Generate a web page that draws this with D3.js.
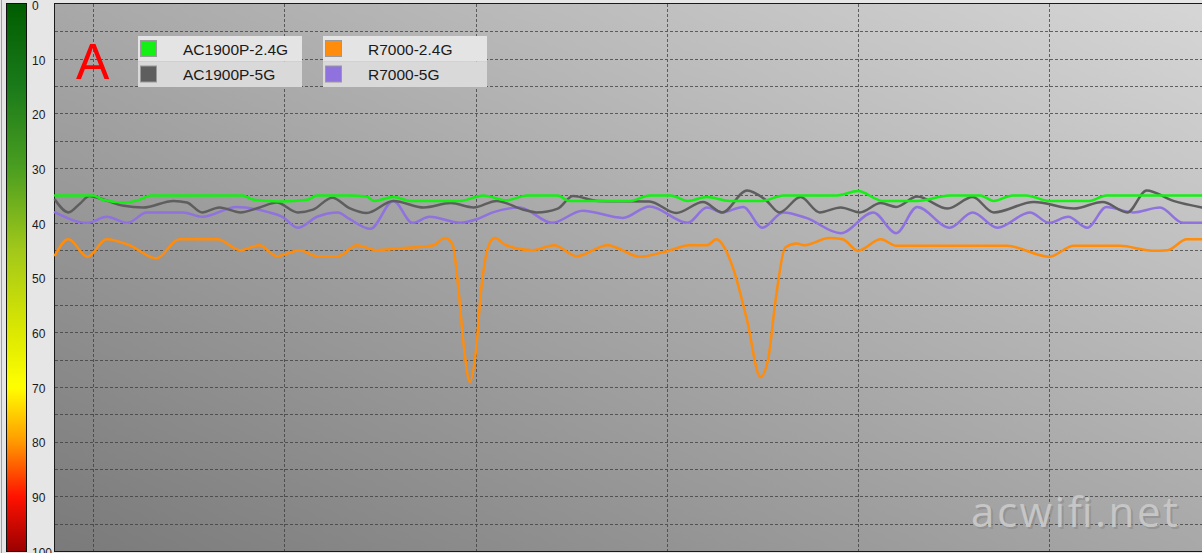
<!DOCTYPE html>
<html>
<head>
<meta charset="utf-8">
<script src="https://cdn.jsdelivr.net/npm/d3@7"></script>
<style>
  html, body { margin: 0; padding: 0; background: #e6e6e6; overflow: hidden; }
  svg { display: block; }
</style>
</head>
<body>
<svg id="chart" width="1202" height="553"></svg>
<script>
// ---------- DATA ----------
const seriesNames = ["AC1900P-2.4G", "AC1900P-5G", "R7000-2.4G", "R7000-5G"];
const panelLabel = "A";
const watermark = "acwifi.net";
const yTickValues = [0, 10, 20, 30, 40, 50, 60, 70, 80, 90, 100];
const yGridValues = [5, 10, 15, 20, 25, 30, 35, 40, 45, 50, 55, 60, 65, 70, 75, 80, 85, 90, 95];
const xGridValues = [20, 120, 220, 320, 420, 520];
const xDomain = [0, 600];
const yDomain = [0, 100];

// [time, signal] pairs
const ac1900p24 = [[0,35],[20,35],[25,35.8],[36,36.3],[44,35.8],[50,35],[98,35],[104,35.8],[118,36.1],[132,35.8],[137,35],
  [154,35],[163,35.2],[167,36],[177,35.3],[186,36],[212,36],[224,35],[236,35.9],[247,35],[263,35],[269,36],[301,36],
  [311,35],[322,35],[331,36],[341,35.3],[353,36],[370,36],[381,35],[409,35],[420,34.2],[433,36],[451,36],[468,35],
  [484,35],[491,36],[501,35],[508,35],[520,36],[541,36],[550,35],[600,35]];
const ac1900p5 = [[0,35.8],[7,38.1],[13,36.5],[18,35.1],[24,35.6],[36,36.9],[46,37.2],[62,36],[69,36.3],[77,38.1],[86,37.2],
  [97,38.1],[107,37.2],[116,36.3],[127,38.1],[135,37.6],[145,35.4],[154,37.3],[163,38.2],[177,36],[193,37.2],[207,36.4],
  [219,37.2],[231,36],[245,37.6],[252,38.1],[263,37.4],[271,35.1],[284,36],[311,36.1],[325,38.2],[339,36.2],[349,38.1],
  [362,34.1],[372,35.9],[379,38.1],[390,35.3],[400,38.1],[411,37.2],[421,38.1],[432,36.4],[440,37.1],[451,35.2],[467,37.4],
  [480,35.3],[491,38.1],[512,36.2],[533,37.4],[548,36.2],[561,38.1],[571,34.1],[585,36],[600,37.2]];
const r700024 = [[0,45.9],[7,43],[17,46.2],[27,43],[39,44.1],[53,46.5],[65,43],[85,43],[97,45],[107,44.1],[116,46.1],[128,45],
  [137,46.1],[148,46.1],[158,44.1],[168,45],[180,44.7],[198,44.1],[204,42.8],[208,44],[211,52],[214,63],[217,69.1],[220,64],
  [223,52],[227,44],[230,42.8],[236,44.1],[250,45],[261,44.1],[273,46.1],[289,44.1],[306,46.2],[320,45.2],[332,44.1],
  [341,44.1],[346,43],[350,44.4],[355,48.6],[362,57.8],[369,68.2],[373,65],[377,54],[382,44.5],[388,43.8],[392,44.1],
  [405,42.8],[412,43],[420,45.1],[432,43],[440,44.2],[498,44.2],[520,46.2],[533,44.2],[557,44.2],[574,45.1],[582,45],
  [592,43],[600,43]];
const r70005 = [[0,38.1],[17,40],[27,38.9],[38,40],[48,38.1],[67,38.1],[77,38.9],[95,37.1],[111,38],[119,38.9],[127,40.9],
  [137,38.9],[148,38.1],[154,39.3],[165,41.1],[177,36],[187,40],[196,38.9],[212,40],[221,39.3],[229,38.1],[243,37.2],
  [260,40],[276,37.8],[297,39.1],[311,37],[331,40],[341,37.2],[349,38.1],[360,37.1],[370,40.9],[381,38.1],[393,39.1],
  [411,41.9],[428,38.1],[440,41.9],[451,37.1],[468,40.9],[480,38.1],[493,40.9],[510,38.1],[520,40],[530,38.9],[540,40.9],
  [550,37.1],[564,38.1],[578,37.2],[590,40],[600,40]];
const seriesData = [ac1900p24, ac1900p5, r700024, r70005];

// ---------- STYLE ----------
const colors = ["#14f014", "#5e5e5e", "#ff8c0a", "#8f72de"];
const W = 1202, H = 553;
const plot = { left: 55, top: 4, right: 1202, bottom: 551 };

const svg = d3.select("#chart");
const defs = svg.append("defs");

svg.append("rect").attr("x", 0).attr("y", 0).attr("width", W).attr("height", H).attr("fill", "#e6e6e6");
svg.append("line").attr("x1", 1.5).attr("x2", 1.5).attr("y1", 0).attr("y2", H).attr("stroke", "#a0a0a0");

const bg = defs.append("linearGradient").attr("id", "bg")
  .attr("x1", 0).attr("y1", 1).attr("x2", 1).attr("y2", 0);
bg.append("stop").attr("offset", 0).attr("stop-color", "#7a7a7a");
bg.append("stop").attr("offset", 1).attr("stop-color", "#d6d6d6");

const cb = defs.append("linearGradient").attr("id", "cbar")
  .attr("x1", 0).attr("y1", 0).attr("x2", 0).attr("y2", 1);
[[0, "#005c00"], [0.15, "#1a7a1a"], [0.3, "#4a9e20"], [0.45, "#a2c81a"], [0.6, "#dce800"], [0.7, "#ffff00"],
 [0.8, "#ff9a00"], [0.9, "#ff1200"], [1, "#9a0000"]].forEach(([o, c]) =>
  cb.append("stop").attr("offset", o).attr("stop-color", c));

const x = d3.scaleLinear().domain(xDomain).range([plot.left, plot.right]);
const y = d3.scaleLinear().domain(yDomain).range([plot.top, plot.bottom]);

svg.append("rect").attr("x", plot.left).attr("y", plot.top)
  .attr("width", plot.right - plot.left).attr("height", plot.bottom - plot.top)
  .attr("fill", "url(#bg)");

const grid = svg.append("g").attr("stroke", "#3c3c3c").attr("stroke-width", 1)
  .attr("stroke-dasharray", "3,2").attr("opacity", 0.75);
grid.selectAll("line.h").data(yGridValues).join("line").attr("class", "h")
  .attr("x1", plot.left).attr("x2", plot.right)
  .attr("y1", d => Math.round(y(d)) + 0.5).attr("y2", d => Math.round(y(d)) + 0.5);
grid.selectAll("line.v").data(xGridValues).join("line").attr("class", "v")
  .attr("y1", plot.top).attr("y2", plot.bottom)
  .attr("x1", d => Math.round(x(d)) + 0.5).attr("x2", d => Math.round(x(d)) + 0.5);

svg.append("rect").attr("x", plot.left - 0.5).attr("y", plot.top - 0.5)
  .attr("width", plot.right - plot.left + 2).attr("height", plot.bottom - plot.top + 1)
  .attr("fill", "none").attr("stroke", "#1a1a1a").attr("stroke-width", 1);

svg.append("rect").attr("x", 6.5).attr("y", plot.top - 0.5).attr("width", 20).attr("height", plot.bottom - plot.top + 1)
  .attr("fill", "url(#cbar)").attr("stroke", "#111").attr("stroke-width", 1);

const yAxis = d3.axisRight(y).tickValues(yTickValues).tickSize(0).tickPadding(0);
const ga = svg.append("g").attr("transform", "translate(31,1.5)").call(yAxis);
ga.select(".domain").remove();
ga.selectAll("text").attr("font-family", "Liberation Sans, Arial, sans-serif")
  .attr("font-size", 12).attr("fill", "#1a1a1a").attr("x", 1);

const wm = svg.append("g").attr("font-family", "Open Sans, DejaVu Sans, sans-serif").attr("font-size", 42);
wm.append("text").attr("x", 973).attr("y", 529).attr("fill", "#8a8a8a").attr("opacity", 0.6)
  .attr("textLength", 207).text(watermark);
wm.append("text").attr("x", 971).attr("y", 527).attr("fill", "#c6c6c6")
  .attr("textLength", 207).text(watermark);

const line = d3.line().x(d => x(d[0])).y(d => y(d[1])).curve(d3.curveMonotoneX);
const lineG = svg.append("g").attr("fill", "none").attr("stroke-width", 2.5)
  .attr("stroke-linejoin", "round").attr("stroke-linecap", "round");
[2, 3, 1, 0].forEach(i => {
  lineG.append("path").datum(seriesData[i]).attr("d", line).attr("stroke", colors[i]);
});

svg.append("text").attr("x", 76).attr("y", 79).attr("fill", "#ff0000")
  .attr("font-family", "Liberation Sans, Arial, sans-serif").attr("font-size", 50).text(panelLabel);

const legendBoxes = [{ x: 138, items: [0, 1] }, { x: 323, items: [2, 3] }];
legendBoxes.forEach(b => {
  const g = svg.append("g").attr("transform", `translate(${b.x},36)`);
  g.append("rect").attr("width", 164).attr("height", 25.5).attr("fill", "#e4e4e4");
  g.append("rect").attr("y", 25.5).attr("width", 164).attr("height", 25.5).attr("fill", "#d9d9d9");
  b.items.forEach((si, r) => {
    const ry = r * 25.5;
    g.append("rect").attr("x", 2.5).attr("y", ry + 4.5).attr("width", 16).attr("height", 16)
      .attr("fill", colors[si]).attr("stroke", "#9a9a9a").attr("stroke-width", 1);
    g.append("text").attr("x", 45).attr("y", ry + 18.5)
      .attr("font-family", "Liberation Sans, Arial, sans-serif").attr("font-size", 15.5).attr("fill", "#1a1a1a")
      .text(seriesNames[si]);
  });
});
</script>
</body>
</html>
